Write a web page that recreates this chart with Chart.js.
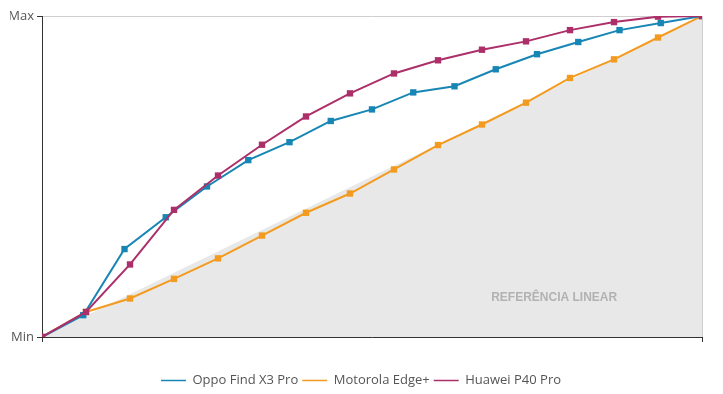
<!DOCTYPE html>
<html>
<head>
<meta charset="utf-8">
<script src="https://cdn.jsdelivr.net/npm/chart.js@4/dist/chart.umd.min.js"></script>
<style>
  html, body { margin: 0; padding: 0; background: #fff; }
  #wrap { width: 723px; height: 394px; }
</style>
</head>
<body>
<div id="wrap"><canvas id="chart"></canvas></div>
<script>
// Series values, 0 = Min, 100 = Max
const seriesNames    = ["Oppo Find X3 Pro", "Motorola Edge+", "Huawei P40 Pro"];
const oppoValues     = [0, 6.8, 27.4, 37.3, 46.9, 55.1, 60.7, 67.3, 70.9, 76.2, 78.1, 83.4, 88.1, 91.9, 95.6, 97.8, 100];
const motorolaValues = [0, 7.8, 12.0, 18.1, 24.5, 31.6, 38.7, 44.7, 52.2, 59.8, 66.2, 73.0, 80.7, 86.5, 93.3, 100];
const huaweiValues   = [0, 7.8, 22.6, 39.6, 50.3, 59.9, 68.7, 75.9, 82.1, 86.2, 89.5, 92.1, 95.6, 98.1, 99.8, 100];
const referenceValues = [0, 100];
const yTickLabels    = ["Min", "Max"];
const referenceLabel = "REFERÊNCIA LINEAR";

const COLORS = {
  oppo: "#1786b4",
  motorola: "#f29b1f",
  huawei: "#ac2f69",
  reference: "#e8e8e8",
};

// spread each series evenly over the 0..100 progress axis
const toPoints = vals => vals.map((v, i) => ({ x: i / (vals.length - 1) * 100, y: v }));

const lineStyle = color => ({
  borderColor: color,
  backgroundColor: color,
  borderWidth: 2,
  pointStyle: "rect",
  pointRadius: 4.5,
  pointBorderWidth: 0,
  pointBackgroundColor: color,
  fill: false,
  tension: 0,
});

// draws the grey caption inside the reference area
const refLabelPlugin = {
  id: "refLabel",
  afterDatasetsDraw(chart) {
    const { ctx, scales } = chart;
    ctx.save();
    ctx.font = "bold 12px 'Liberation Sans', Arial, sans-serif";
    ctx.fillStyle = "#b2b2b2";
    ctx.textAlign = "center";
    ctx.textBaseline = "middle";
    ctx.fillText(referenceLabel, scales.x.getPixelForValue(77.6), scales.y.getPixelForValue(12.4));
    ctx.restore();
  },
};

new Chart(document.getElementById("chart"), {
  type: "line",
  data: {
    datasets: [
      { label: seriesNames[0], data: toPoints(oppoValues), order: 1, ...lineStyle(COLORS.oppo) },
      { label: seriesNames[1], data: toPoints(motorolaValues), order: 2, ...lineStyle(COLORS.motorola) },
      { label: seriesNames[2], data: toPoints(huaweiValues), order: 0, ...lineStyle(COLORS.huawei) },
      {
        label: "ref",
        data: toPoints(referenceValues),
        order: 3,
        borderWidth: 0,
        borderColor: "rgba(0,0,0,0)",
        backgroundColor: COLORS.reference,
        pointRadius: 0,
        fill: "origin",
      },
    ],
  },
  options: {
    responsive: true,
    maintainAspectRatio: false,
    animation: false,
    layout: { padding: { left: 10, right: 11, top: 16, bottom: -3 } },
    plugins: {
      tooltip: { enabled: false },
      legend: {
        position: "bottom",
        labels: {
          usePointStyle: true,
          pointStyle: "line",
          pointStyleWidth: 25,
          padding: 4,
          color: "#555",
          font: { family: "'Open Sans', sans-serif", size: 13 },
          filter: item => item.text !== "ref",
          sort: (a, b) => a.datasetIndex - b.datasetIndex,
          generateLabels: chart => {
            const items = Chart.defaults.plugins.legend.labels.generateLabels(chart);
            items.forEach(it => { it.lineWidth = 1.5; it.pointStyle = "line"; });
            return items;
          },
        },
      },
    },
    scales: {
      x: {
        type: "linear",
        min: 0,
        max: 100,
        afterBuildTicks: s => { s.ticks = [{ value: 0 }, { value: 100 }]; },
        afterFit: s => { s.height = 33; },
        ticks: { display: false },
        grid: { color: "#cfcfcf", tickColor: "#333", tickLength: 5 },
        border: { color: "#333", width: 1 },
      },
      y: {
        min: 0,
        max: 100,
        afterBuildTicks: s => { s.ticks = [{ value: 0 }, { value: 100 }]; },
        afterFit: s => { s.width = 32; },
        ticks: {
          padding: 3,
          color: "#555",
          font: { family: "'Open Sans', sans-serif", size: 13 },
          callback: v => (v === 100 ? yTickLabels[1] : yTickLabels[0]),
        },
        grid: { color: "#cfcfcf", tickColor: "#333", tickLength: 5 },
        border: { color: "#333", width: 1 },
      },
      // empty spacer on the right so the plot ends where the reference does
      spacer: {
        position: "right",
        display: true,
        afterFit: s => { s.width = 10; },
        ticks: { display: false },
        grid: { display: false },
        border: { display: false },
      },
    },
  },
  plugins: [refLabelPlugin],
});
</script>
</body>
</html>
